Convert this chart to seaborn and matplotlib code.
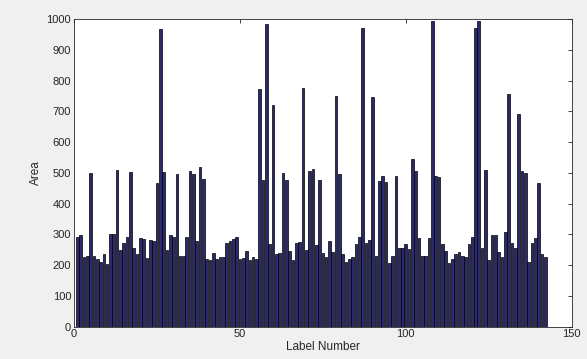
import numpy as np
import pandas as pd
import matplotlib
matplotlib.use("Agg")
import matplotlib.pyplot as plt
import seaborn as sns

# areas, label numbers 1..142
label_numbers = list(range(1, 143))
areas = [
    290, 297, 227, 229, 500, 229, 221, 209, 236, 203,
    302, 300, 509, 249, 273, 290, 504, 257, 236, 288,
    285, 224, 282, 279, 467, 969, 504, 249, 299, 290,
    495, 229, 231, 293, 506, 495, 280, 520, 480, 221,
    216, 241, 221, 227, 227, 273, 279, 285, 293, 221,
    223, 246, 216, 227, 219, 772, 478, 985, 269, 722,
    235, 238, 498, 478, 246, 216, 271, 274, 777, 249,
    506, 512, 266, 478, 238, 225, 277, 244, 751, 496,
    236, 210, 221, 227, 268, 290, 971, 271, 282, 747,
    230, 472, 489, 471, 208, 230, 489, 257, 255, 268,
    251, 545, 507, 288, 230, 230, 288, 994, 491, 487,
    268, 246, 208, 221, 235, 244, 229, 227, 268, 292,
    970, 994, 255, 509, 216, 297, 297, 244, 225, 307,
    757, 271, 257, 691, 505, 500, 210, 271, 288, 467,
    236, 227,
]
x_ticks = [0, 50, 100, 150]
y_ticks = list(range(0, 1001, 100))

df = pd.DataFrame({"Label Number": label_numbers, "Area": areas})

sns.set_theme(style="white")
plt.rcParams["font.family"] = ["Liberation Sans", "DejaVu Sans"]

fig = plt.figure(figsize=(5.87, 3.59), dpi=100, facecolor="#f0f0f0")
ax = fig.add_axes([0.126, 0.090, 0.848, 0.857])

sns.barplot(data=df, x="Label Number", y="Area", native_scale=True,
            width=0.8, color="#2b2a6c", saturation=1,
            edgecolor="black", linewidth=0.5, ax=ax)

ax.set_xlim(0, 150)
ax.set_ylim(0, 1000)
ax.set_xticks(x_ticks)
ax.set_yticks(y_ticks)
ax.tick_params(direction="in", length=3, width=0.6, labelsize=8,
               top=True, right=True, colors="#262626", pad=2)
for s in ax.spines.values():
    s.set_color("#262626")
    s.set_linewidth(0.6)
ax.set_xlabel("Label Number", fontsize=8.5, labelpad=1)
ax.set_ylabel("Area", fontsize=8.5, labelpad=3)

fig.savefig("out.png", dpi=100, facecolor=fig.get_facecolor())
